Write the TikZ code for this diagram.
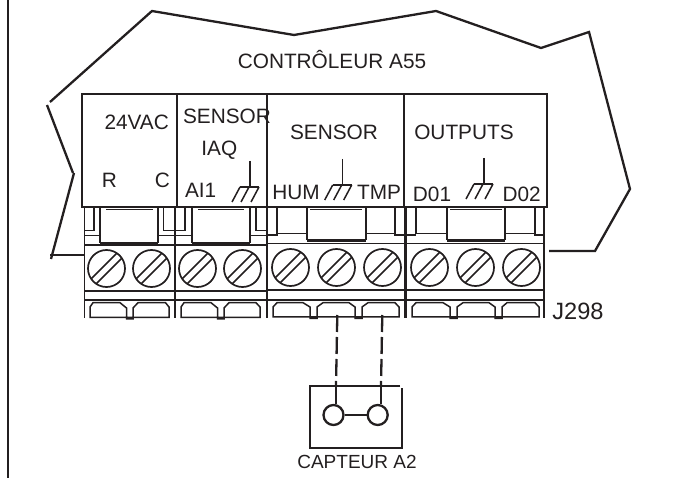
\documentclass[tikz,border=0pt]{standalone}
\usepackage{fontspec}
\setmainfont{Liberation Sans}
\usetikzlibrary{calc}
\definecolor{cc}{RGB}{35, 31, 32}
\tikzset{
  lbl/.style={inner sep=0pt, text=cc, font=\fontsize{20.8}{24}\selectfont},
  hair line/.style={line width=0.8pt, color=cc},
  thin line/.style={line width=1.5pt, color=cc},
  mid line/.style={line width=2.3pt, color=cc},
  heavy line/.style={line width=3.5pt, color=cc},
  screw/.style={circle, minimum size=37pt, inner sep=0pt, line width=1.7pt, draw=cc,
    path picture={
      \draw [line width=1.7pt, color=cc] ($(path picture bounding box.center)+(-21pt,-16pt)$) -- ++(36pt,36pt);
      \draw [line width=1.7pt, color=cc] ($(path picture bounding box.center)+(-16pt,-21pt)$) -- ++(36pt,36pt);
    }},
  contact/.style={circle, minimum size=20pt, inner sep=0pt, line width=2.3pt, draw=cc},
  gnd/.pic={
    \draw [thin line] (0pt, 26pt) -- (0pt, 0pt);
    \draw [thin line] (-10pt, 0pt) -- (9pt, 0pt);
    \draw [thin line] (-10pt, 0pt) -- (-18pt, -15pt);
    \draw [thin line] (-1pt, 0pt) -- (-9pt, -15pt);
    \draw [thin line] (9pt, 0pt) -- (1pt, -15pt);
  }
}
\begin{document}
\begin{tikzpicture}
\useasboundingbox (0pt, 0pt) rectangle (680pt, -478pt);
% frame and outline of the controller
\draw [mid line] (8pt, 0pt) -- (8pt, -478pt);
\draw [mid line] (50pt, -102pt) -- (152pt, -11pt) -- (294pt, -35pt) -- (436pt, -11pt) -- (541pt, -48pt) -- (589pt, -32pt) -- (630pt, -189pt) -- (595pt, -251pt) -- (549pt, -251pt);
\draw [mid line] (47pt, -105pt) -- (73pt, -173pt);
\draw [mid line] (74pt, -173pt) -- (51pt, -259pt);
\draw [mid line] (50pt, -255pt) -- (84pt, -255pt);
% upper case
\draw [thin line] (82pt, -207pt) rectangle (547pt, -94pt);
\draw [thin line] (177pt, -94pt) -- (177pt, -207pt);
\draw [thin line] (267pt, -94pt) -- (267pt, -207pt);
\draw [thin line] (404pt, -94pt) -- (404pt, -207pt);
% terminal block
\draw [thin line] (84.5pt, -207pt) -- (84.5pt, -318pt);
\draw [thin line] (544pt, -207pt) -- (544pt, -318pt);
\draw [thin line] (84pt, -245pt) -- (175pt, -245pt);
\draw [thin line] (175pt, -245pt) -- (267pt, -245pt);
\draw [thin line] (267pt, -243.5pt) -- (544pt, -243.5pt);
\draw [mid line] (84pt, -291pt) -- (267pt, -291pt);
\draw [mid line] (267pt, -290pt) -- (544pt, -290pt);
\draw [thin line] (84pt, -300pt) -- (544pt, -300pt);
\draw [line width=2.5pt, color=cc] (175pt, -207pt) -- (175pt, -318pt);
\draw [line width=2.5pt, color=cc] (267pt, -207pt) -- (267pt, -318pt);
\draw [heavy line] (405.5pt, -207pt) -- (405.5pt, -318pt);
% 24VAC tabs
\draw [thin line] (94pt, -207pt) -- (94pt, -230.5pt) -- (84pt, -230.5pt);
\draw [thin line] (84pt, -235.5pt) -- (100pt, -235.5pt);
\draw [thin line] (100pt, -207pt) -- (100pt, -243pt);
\draw [mid line] (100pt, -243pt) -- (158pt, -243pt);
\draw [thin line] (158pt, -207pt) -- (158pt, -243pt);
\draw [hair line] (106pt, -209.5pt) -- (153pt, -209.5pt);
\draw [thin line] (163.5pt, -207pt) -- (163.5pt, -230.5pt) -- (175pt, -230.5pt);
\draw [thin line] (158pt, -235.5pt) -- (175pt, -235.5pt);
% IAQ tabs
\draw [thin line] (185pt, -207pt) -- (185pt, -230.5pt) -- (175pt, -230.5pt);
\draw [thin line] (175pt, -235.5pt) -- (192pt, -235.5pt);
\draw [thin line] (192pt, -207pt) -- (192pt, -243pt);
\draw [mid line] (192pt, -243pt) -- (250pt, -243pt);
\draw [thin line] (250pt, -207pt) -- (250pt, -243pt);
\draw [hair line] (198pt, -209.5pt) -- (244pt, -209.5pt);
\draw [thin line] (256pt, -207pt) -- (256pt, -230.5pt) -- (267pt, -230.5pt);
\draw [thin line] (250pt, -235.5pt) -- (267pt, -235.5pt);
% SENSOR tabs
\draw [thin line] (277pt, -207pt) -- (277pt, -235pt) -- (267pt, -235pt);
\draw [thin line] (277pt, -233.5pt) -- (307pt, -233.5pt);
\draw [thin line] (307pt, -207pt) -- (307pt, -240.5pt);
\draw [mid line] (307pt, -240.5pt) -- (366pt, -240.5pt);
\draw [thin line] (366pt, -207pt) -- (366pt, -240.5pt);
\draw [hair line] (310pt, -209pt) -- (362pt, -209pt);
\draw [thin line] (366pt, -233.5pt) -- (395pt, -233.5pt);
\draw [thin line] (395pt, -207pt) -- (395pt, -235pt) -- (404pt, -235pt);
% OUTPUTS tabs
\draw [thin line] (416pt, -207pt) -- (416pt, -233.5pt) -- (447pt, -233.5pt);
\draw [thin line] (407pt, -235pt) -- (416pt, -235pt);
\draw [thin line] (447pt, -207pt) -- (447pt, -240.5pt);
\draw [mid line] (447pt, -240.5pt) -- (505pt, -240.5pt);
\draw [thin line] (505pt, -207pt) -- (505pt, -240.5pt);
\draw [hair line] (450pt, -209pt) -- (502pt, -209pt);
\draw [thin line] (505pt, -233.5pt) -- (535pt, -233.5pt);
\draw [thin line] (535pt, -207pt) -- (535pt, -235pt) -- (544pt, -235pt);
% feet under the screws
\draw [thin line] (90pt, -317.5pt) -- (90pt, -307pt) -- (93pt, -302.7pt) -- (120pt, -302.7pt) -- (126.5pt, -308pt) -- (126.5pt, -319pt) -- (133pt, -319pt) -- (133pt, -308pt) -- (138pt, -302.7pt) -- (165.5pt, -302.7pt) -- (169pt, -307pt) -- (169pt, -317.5pt) -- cycle;
\draw [thin line] (181pt, -317.5pt) -- (181pt, -307pt) -- (184pt, -302.7pt) -- (211pt, -302.7pt) -- (217.5pt, -308pt) -- (217.5pt, -319pt) -- (224pt, -319pt) -- (224pt, -308pt) -- (229pt, -302.7pt) -- (256pt, -302.7pt) -- (260pt, -307pt) -- (260pt, -317.5pt) -- cycle;
\draw [thin line] (273pt, -317pt) -- (273pt, -307pt) -- (277pt, -302.7pt) -- (303pt, -302.7pt) -- (310pt, -307pt) -- (310pt, -318.5pt) -- (317pt, -318.5pt) -- (317pt, -307pt) -- (323pt, -302.7pt) -- (349pt, -302.7pt) -- (355pt, -307pt) -- (355pt, -318.5pt) -- (362pt, -318.5pt) -- (362pt, -307pt) -- (368pt, -302.7pt) -- (395pt, -302.7pt) -- (399pt, -307pt) -- (399pt, -317pt) -- cycle;
\draw [thin line] (412pt, -317pt) -- (412pt, -307pt) -- (416pt, -302.7pt) -- (443pt, -302.7pt) -- (450pt, -307pt) -- (450pt, -318.5pt) -- (457pt, -318.5pt) -- (457pt, -307pt) -- (463pt, -302.7pt) -- (489pt, -302.7pt) -- (495pt, -307pt) -- (495pt, -318.5pt) -- (502pt, -318.5pt) -- (502pt, -307pt) -- (507pt, -302.7pt) -- (535pt, -302.7pt) -- (539pt, -307pt) -- (539pt, -317pt) -- cycle;
% screws
\node (s1) [screw] at (106.5pt, -268.5pt) {};
\node (s2) [screw] at (151.5pt, -268.5pt) {};
\node (s3) [screw] at (197.5pt, -268.5pt) {};
\node (s4) [screw] at (242.5pt, -268.5pt) {};
\node (s5) [screw] at (290.5pt, -267.5pt) {};
\node (s6) [screw] at (336.5pt, -267.5pt) {};
\node (s7) [screw] at (382.5pt, -267.5pt) {};
\node (s8) [screw] at (429.5pt, -267.5pt) {};
\node (s9) [screw] at (475.5pt, -267.5pt) {};
\node (s10) [screw] at (521.5pt, -267.5pt) {};
% grounds
\pic at (250pt, -187pt) {gnd};
\pic at (342.7pt, -185pt) {gnd};
\pic at (484pt, -184pt) {gnd};
% texts
\node (ctrl) [lbl] at (332pt, -60pt) {CONTRÔLEUR A55};
\node (vac) [lbl] at (136.7pt, -122.7pt) {24VAC};
\node (r) [lbl] at (109.3pt, -180pt) {R};
\node (c) [lbl] at (162.3pt, -180pt) {C};
\node (iaqa) [lbl] at (227pt, -116pt) {SENSOR};
\node (iaqb) [lbl] at (219.3pt, -150pt) {IAQ};
\node (ai) [lbl] at (200.7pt, -190.7pt) {AI1};
\node (sens) [lbl] at (334pt, -132.7pt) {SENSOR};
\node (hum) [lbl] at (296pt, -192.7pt) {HUM};
\node (tmp) [lbl] at (379pt, -192.7pt) {TMP};
\node (out) [lbl] at (464pt, -132.7pt) {OUTPUTS};
\node (do1) [lbl] at (432pt, -194.7pt) {D01};
\node (do2) [lbl] at (521.7pt, -194.7pt) {D02};
\node (jack) [lbl, font=\fontsize{23.6}{28}\selectfont] at (578pt, -311.7pt) {J298};
\node (capt) [lbl, font=\fontsize{19}{23}\selectfont] at (357pt, -461.7pt) {CAPTEUR A2};
% sensor
\coordinate (w1) at (337.3pt, -315pt);
\coordinate (w2) at (382.3pt, -315pt);
\coordinate (t1) at (336pt, -386pt);
\coordinate (t2) at (381pt, -386pt);
\node (c1) [contact] at (333.5pt, -415pt) {};
\node (c2) [contact] at (377.7pt, -415pt) {};
\draw [mid line] (400pt, -386pt) -- (310pt, -386pt) -- (310pt, -448.3pt) -- (401.7pt, -448.3pt) -- (401.7pt, -388pt);
\draw [mid line, dash pattern=on 17pt off 5pt] (w1) -- (t1);
\draw [mid line, dash pattern=on 17pt off 5pt] (w2) -- (t2);
\draw [mid line] (t1) -- (c1.north -| t1);
\draw [mid line] (t2) -- (c2.north -| t2);
\draw [mid line] (c1) -- (c2);
\end{tikzpicture}
\end{document}
